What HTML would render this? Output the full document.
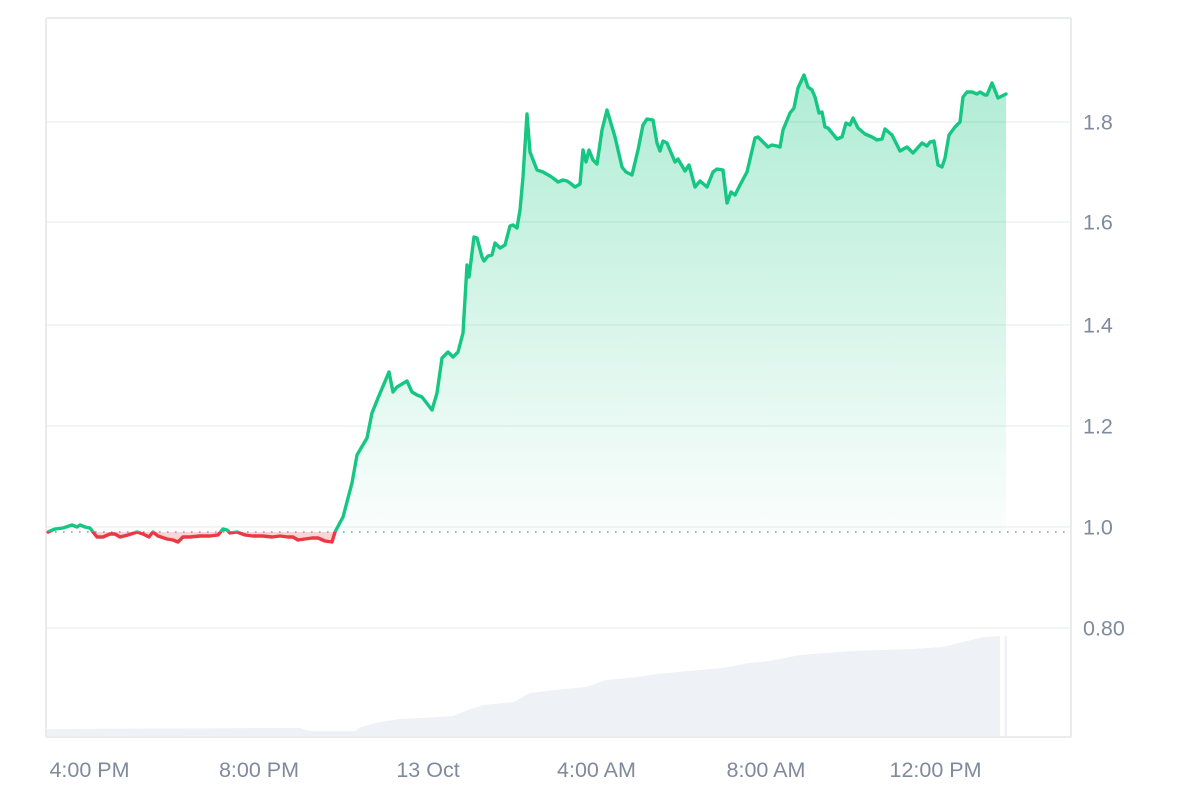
<!DOCTYPE html>
<html><head><meta charset="utf-8"><style>
html,body{margin:0;padding:0;background:#fff;}
svg{display:block;}
text{font-family:"Liberation Sans",Arial,sans-serif;fill:#808a9d;font-size:21.5px;}
</style></head><body>
<svg width="1200" height="800" viewBox="0 0 1200 800" xmlns="http://www.w3.org/2000/svg">
<defs>
<linearGradient id="gg" x1="0" y1="75" x2="0" y2="532" gradientUnits="userSpaceOnUse">
<stop offset="0" stop-color="#16c784" stop-opacity="0.34"/>
<stop offset="1" stop-color="#16c784" stop-opacity="0.02"/>
</linearGradient>
<clipPath id="above"><rect x="0" y="0" width="1200" height="532"/></clipPath>
<clipPath id="below"><rect x="0" y="532" width="1200" height="300"/></clipPath>
</defs>
<!-- grid -->
<g stroke="#eff1f4" stroke-width="1.5">
<line x1="46" y1="122" x2="1071" y2="122"/>
<line x1="46" y1="222" x2="1071" y2="222"/>
<line x1="46" y1="325" x2="1071" y2="325"/>
<line x1="46" y1="426" x2="1071" y2="426"/>
<line x1="46" y1="527" x2="1071" y2="527"/>
<line x1="46" y1="628" x2="1071" y2="628"/>
</g>
<!-- border -->
<g stroke="#e9ebee" stroke-width="2" fill="none">
<line x1="46" y1="18" x2="1071" y2="18"/>
<line x1="46" y1="18" x2="46" y2="737"/>
<line x1="1071" y1="18" x2="1071" y2="737"/>
<line x1="46" y1="737" x2="1071" y2="737"/>
</g>
<!-- volume -->
<polygon fill="#eef1f5" points="47,736 47,729 300,728 310,731 355,731 361,727 380,722 400,719 422,718 453,716 468,710 484,705 514,702 530,693 555,690 586,687 606,680 637,677 657,674 688,671 723,668 749,663 769,661 800,655 851,651 912,649 943,647 963,642 984,637 1000,636 1000,736"/>
<rect x="1004.5" y="636" width="2.5" height="100" fill="#eef1f5"/>
<!-- area -->
<g id="area">
<polygon clip-path="url(#above)" fill="url(#gg)" points="48,532 55,529 63,528 72,525 77,527 80,525 85,527 90,528 93,532 97,537 103,537 110,534 115,534 120,537 128,535 137,532 143,534 149,537 153,532 158,536 167,539 173,540 178,542 183,537 190,537 200,536 210,536 218,535 223,529 227,530 230,533 237,532 245,535 253,536 263,536 272,537 280,536 288,537 293,537 298,540 305,539 312,538 318,538 325,541 332,542 335,532 343,517 352,483 357,455 367,438 372,413 378,398 389,372 393,392 397,387 407,381 412,392 417,395 422,397 432,410 437,393 442,358 448,352 453,357 458,352 463,333 467,265 469,277 474,237 477,238 482,257 484,261 488,256 492,255 495,243 500,248 505,245 510,226 513,225 517,228 520,210 523,177 527,114 530,152 537,170 543,172 550,176 553,178 558,182 563,180 567,181 570,183 575,187 580,184 583,150 586,162 589,150 593,160 597,164 602,130 607,110 615,137 622,167 626,172 632,175 638,150 643,125 647,119 653,120 657,143 660,151 663,141 667,143 672,155 675,162 678,159 685,171 689,165 695,187 700,181 707,187 713,172 717,169 723,170 727,203 731,192 735,195 740,185 747,172 755,138 758,137 763,142 768,147 772,145 777,146 780,147 783,130 790,113 794,108 798,88 804,75 808,87 812,90 815,97 819,113 822,112 825,127 828,128 837,139 842,137 846,123 850,125 853,118 858,128 865,134 872,137 877,140 882,139 885,129 892,135 900,151 907,147 913,153 922,143 927,146 930,142 934,141 938,165 942,167 945,158 949,135 955,127 960,122 963,97 967,92 972,92 977,94 980,92 985,95 987,95 992,83 998,98 1006,94 1006,532"/>
<polygon clip-path="url(#below)" fill="#ea3943" fill-opacity="0.22" points="48,532 55,529 63,528 72,525 77,527 80,525 85,527 90,528 93,532 97,537 103,537 110,534 115,534 120,537 128,535 137,532 143,534 149,537 153,532 158,536 167,539 173,540 178,542 183,537 190,537 200,536 210,536 218,535 223,529 227,530 230,533 237,532 245,535 253,536 263,536 272,537 280,536 288,537 293,537 298,540 305,539 312,538 318,538 325,541 332,542 335,532"/>
</g>
<!-- baseline dotted -->
<line x1="47" y1="532" x2="1071" y2="532" stroke="#8f97a5" stroke-width="1.6" stroke-dasharray="1.6 6.4"/>
<!-- line -->
<polyline fill="none" stroke-width="3.4" stroke-linejoin="round" stroke-linecap="round" clip-path="url(#above)" stroke="#16c784" points="48,532 55,529 63,528 72,525 77,527 80,525 85,527 90,528 93,532 97,537 103,537 110,534 115,534 120,537 128,535 137,532 143,534 149,537 153,532 158,536 167,539 173,540 178,542 183,537 190,537 200,536 210,536 218,535 223,529 227,530 230,533 237,532 245,535 253,536 263,536 272,537 280,536 288,537 293,537 298,540 305,539 312,538 318,538 325,541 332,542 335,532 343,517 352,483 357,455 367,438 372,413 378,398 389,372 393,392 397,387 407,381 412,392 417,395 422,397 432,410 437,393 442,358 448,352 453,357 458,352 463,333 467,265 469,277 474,237 477,238 482,257 484,261 488,256 492,255 495,243 500,248 505,245 510,226 513,225 517,228 520,210 523,177 527,114 530,152 537,170 543,172 550,176 553,178 558,182 563,180 567,181 570,183 575,187 580,184 583,150 586,162 589,150 593,160 597,164 602,130 607,110 615,137 622,167 626,172 632,175 638,150 643,125 647,119 653,120 657,143 660,151 663,141 667,143 672,155 675,162 678,159 685,171 689,165 695,187 700,181 707,187 713,172 717,169 723,170 727,203 731,192 735,195 740,185 747,172 755,138 758,137 763,142 768,147 772,145 777,146 780,147 783,130 790,113 794,108 798,88 804,75 808,87 812,90 815,97 819,113 822,112 825,127 828,128 837,139 842,137 846,123 850,125 853,118 858,128 865,134 872,137 877,140 882,139 885,129 892,135 900,151 907,147 913,153 922,143 927,146 930,142 934,141 938,165 942,167 945,158 949,135 955,127 960,122 963,97 967,92 972,92 977,94 980,92 985,95 987,95 992,83 998,98 1006,94"/>
<polyline fill="none" stroke-width="3.4" stroke-linejoin="round" stroke-linecap="round" clip-path="url(#below)" stroke="#ea3943" points="48,532 55,529 63,528 72,525 77,527 80,525 85,527 90,528 93,532 97,537 103,537 110,534 115,534 120,537 128,535 137,532 143,534 149,537 153,532 158,536 167,539 173,540 178,542 183,537 190,537 200,536 210,536 218,535 223,529 227,530 230,533 237,532 245,535 253,536 263,536 272,537 280,536 288,537 293,537 298,540 305,539 312,538 318,538 325,541 332,542 335,532 343,517"/>
<!-- y labels -->
<text x="1083" y="129.5">1.8</text>
<text x="1083" y="229.5">1.6</text>
<text x="1083" y="332.5">1.4</text>
<text x="1083" y="433.5">1.2</text>
<text x="1083" y="534.5">1.0</text>
<text x="1083" y="635.5">0.80</text>
<!-- x labels -->
<text x="89.5" y="777" text-anchor="middle">4:00 PM</text>
<text x="259" y="777" text-anchor="middle">8:00 PM</text>
<text x="428" y="777" text-anchor="middle">13 Oct</text>
<text x="596.5" y="777" text-anchor="middle">4:00 AM</text>
<text x="766" y="777" text-anchor="middle">8:00 AM</text>
<text x="935.5" y="777" text-anchor="middle">12:00 PM</text>
</svg>
</body></html>
